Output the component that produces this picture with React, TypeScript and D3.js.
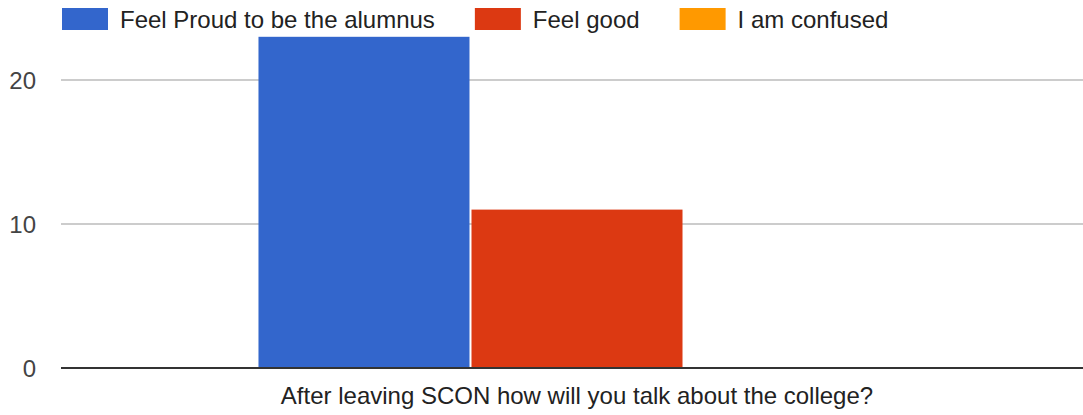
import React, { useEffect, useRef } from "react";
import * as d3 from "d3";

const categories = ["After leaving SCON how will you talk about the college?"];
const seriesNames = ["Feel Proud to be the alumnus", "Feel good", "I am confused"];
const seriesColors = ["#3366cc", "#dc3912", "#ff9900"];
const seriesValues = [23, 11, 0];
const yTicks = [0, 10, 20];

const W = 1083;
const H = 415;
const FONT = "Arial, 'Liberation Sans', sans-serif";

export default function App() {
  const ref = useRef<SVGSVGElement>(null);
  useEffect(() => {
    const svg = d3.select(ref.current);
    svg.selectAll("*").remove();
    const left = 61, right = 1093, bottom = 368;
    const y = d3.scaleLinear().domain([0, 20]).range([bottom, 80]);
    const x0 = d3.scaleBand().domain(categories).range([left, right]).paddingInner(0).paddingOuter(0.31);
    const x1 = d3.scaleBand().domain(seriesNames).range([0, x0.bandwidth()]).paddingInner(0.0094);

    // gridlines
    svg.append("g").selectAll("line").data(yTicks.filter(t => t !== 0)).join("line")
      .attr("x1", left).attr("x2", right)
      .attr("y1", d => y(d)).attr("y2", d => y(d))
      .attr("stroke", "#cccccc").attr("stroke-width", 2);

    // bars
    const g = svg.append("g");
    categories.forEach(cat => {
      g.selectAll("rect.b").data(seriesNames.map((n, i) => ({ n, v: seriesValues[i], c: seriesColors[i] })))
        .join("rect")
        .attr("x", d => (x0(cat) as number) + (x1(d.n) as number))
        .attr("width", x1.bandwidth())
        .attr("y", d => y(d.v))
        .attr("height", d => bottom - y(d.v))
        .attr("fill", d => d.c);
    });

    // baseline
    svg.append("line").attr("x1", left).attr("x2", right).attr("y1", bottom).attr("y2", bottom)
      .attr("stroke", "#333333").attr("stroke-width", 2);

    // y tick labels
    svg.append("g").selectAll("text").data(yTicks).join("text")
      .attr("x", 36).attr("y", d => y(d) + 9)
      .attr("text-anchor", "end")
      .attr("font-family", FONT).attr("font-size", 24).attr("fill", "#444444")
      .text(d => String(d));

    // x label
    svg.append("g").selectAll("text").data(categories).join("text")
      .attr("x", d => (x0(d) as number) + x0.bandwidth() / 2).attr("y", 404)
      .attr("text-anchor", "middle")
      .attr("font-family", FONT).attr("font-size", 24).attr("fill", "#222222")
      .text(d => d);

    // legend
    const lg = svg.append("g");
    let cx = 62;
    seriesNames.forEach((n, i) => {
      lg.append("rect").attr("x", cx).attr("y", 8).attr("width", 46).attr("height", 22).attr("fill", seriesColors[i]);
      const t = lg.append("text").attr("x", cx + 58).attr("y", 28)
        .attr("font-family", FONT).attr("font-size", 24).attr("fill", "#222222").text(n);
      const w = (t.node() as SVGTextElement).getComputedTextLength();
      cx = cx + 58 + w + 40;
    });
  }, []);
  return (
    <svg ref={ref} width={W} height={H} style={{ display: "block", position: "absolute", left: 0, top: 0 }} />
  );
}
